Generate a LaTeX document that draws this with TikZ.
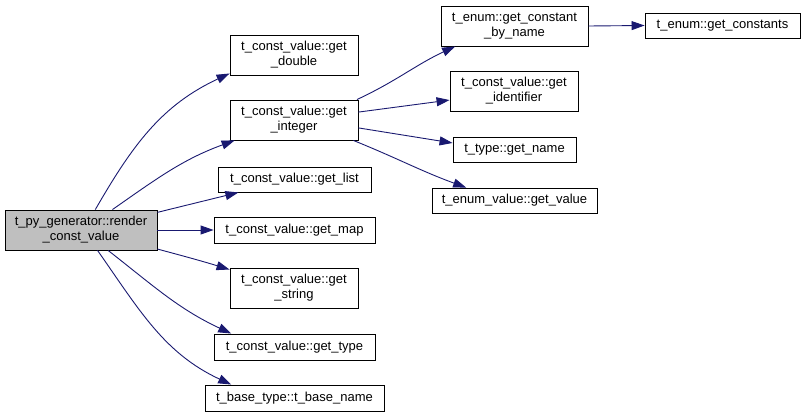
\documentclass[tikz,border=0pt]{standalone}
\usepackage{fontspec}
\setmainfont{Liberation Sans}
\usetikzlibrary{arrows.meta}
\definecolor{edgeblue}{HTML}{191970}
\definecolor{rootgray}{HTML}{BFBFBF}
\tikzset{
  fn/.style={draw=black, line width=0.9pt, fill=white, inner sep=0pt, align=center,
    font=\fontsize{13}{15}\selectfont},
  call/.style={draw=edgeblue, line width=0.9pt, -{Triangle[length=13pt,width=9pt]}},
}
\begin{document}
\begin{tikzpicture}[x=1pt,y=-1pt]
\useasboundingbox (0,0) rectangle (805,417);
\node[fn, fill=rootgray, minimum width=152pt, minimum height=40pt] (root) at (81,230) {t\_py\_generator::render\\\_const\_value};
\node[fn, minimum width=128pt, minimum height=40pt] (dbl) at (294,55) {t\_const\_value::get\\\_double};
\node[fn, minimum width=128pt, minimum height=40pt] (int) at (294,120) {t\_const\_value::get\\\_integer};
\node[fn, minimum width=153pt, minimum height=25pt] (lst) at (294.5,179.5) {t\_const\_value::get\_list};
\node[fn, minimum width=161pt, minimum height=26pt] (map) at (294.5,230) {t\_const\_value::get\_map};
\node[fn, minimum width=128pt, minimum height=40pt] (str) at (294,288) {t\_const\_value::get\\\_string};
\node[fn, minimum width=161pt, minimum height=26pt] (typ) at (294.5,347) {t\_const\_value::get\_type};
\node[fn, minimum width=179pt, minimum height=26pt] (bas) at (294.5,398) {t\_base\_type::t\_base\_name};
\node[fn, minimum width=147pt, minimum height=40pt] (cbn) at (514.5,26) {t\_enum::get\_constant\\\_by\_name};
\node[fn, minimum width=155pt, minimum height=25pt] (cst) at (722.5,25.5) {t\_enum::get\_constants};
\node[fn, minimum width=128pt, minimum height=40pt] (idf) at (514,91) {t\_const\_value::get\\\_identifier};
\node[fn, minimum width=123pt, minimum height=25pt] (nam) at (514.5,149.5) {t\_type::get\_name};
\node[fn, minimum width=165pt, minimum height=25pt] (val) at (514.5,200.5) {t\_enum\_value::get\_value};

\draw[call] (root.55) to[out=60, in=205] (dbl.196);
\draw[call] (root.33) to[out=35, in=200] (int.199);
\draw[call] (root.13) -- (lst.193);
\draw[call] (root.east) -- (map.west);
\draw[call] (root.-14) to[out=-15, in=163] (str.164);
\draw[call] (root.-37) to[out=-38, in=155] (typ.168);
\draw[call] (root.-51) to[out=-55, in=155] (bas.168);
\draw[call] (int.18) to[out=25, in=205] (cbn.199);
\draw[call] (int.7) -- (idf.188);
\draw[call] (int.-7) -- (nam.174);
\draw[call] (int.-19) to[out=-22, in=160] (val.165);
\draw[call] (cbn.east) -- (cst.west);
\end{tikzpicture}
\end{document}
